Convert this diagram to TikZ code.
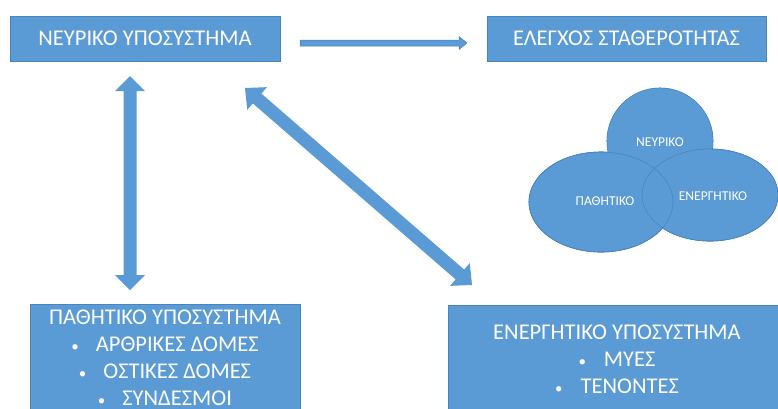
\documentclass[tikz,border=0pt]{standalone}
\usepackage{fontspec}
\setmainfont{Carlito}
\usetikzlibrary{calc}
\definecolor{obl}{HTML}{5B9BD5}
\definecolor{obd}{HTML}{4A84BE}
\newcommand\dblarrow[5]{%
  \fill[obl] (#1) -- ($(#1)!#5!(#2)!#4!90:(#2)$) -- ($(#1)!#5!(#2)!#3!90:(#2)$)
    -- ($(#2)!#5!(#1)!#3!-90:(#1)$) -- ($(#2)!#5!(#1)!#4!-90:(#1)$) -- (#2)
    -- ($(#2)!#5!(#1)!#4!90:(#1)$) -- ($(#2)!#5!(#1)!#3!90:(#1)$)
    -- ($(#1)!#5!(#2)!#3!-90:(#2)$) -- ($(#1)!#5!(#2)!#4!-90:(#2)$) -- cycle;}
\newcommand\blt{{\fontsize{15}{15}\selectfont •}}
\begin{document}
\begin{tikzpicture}[x=1pt,y=-1pt,
  box/.style={fill=obl, draw=obd, line width=0.5pt, text=white, inner sep=0pt, align=center},
  bigtext/.style={font=\fontsize{22.5}{27}\selectfont},
  blob/.style={fill=obl, draw=obd, line width=0.6pt},
  blobtext/.style={text=white, font=\fontsize{13.5}{15}\selectfont}]
\useasboundingbox (0,0) rectangle (778,408);
\clip (0,0) rectangle (778,408);
\fill[white] (0,0) rectangle (778,408);
% top boxes
\node[box, bigtext, minimum width=270pt, minimum height=45pt] (neur) at (145,38.5) {ΝΕΥΡΙΚΟ ΥΠΟΣΥΣΤΗΜΑ};
\node[box, bigtext, minimum width=279pt, minimum height=45pt] (eleg) at (626.5,38.5) {ΕΛΕΓΧΟΣ ΣΤΑΘΕΡΟΤΗΤΑΣ};
% bottom boxes
\node[box, bigtext, minimum width=270pt, minimum height=108pt] (path) at (165,358)
  {ΠΑΘΗΤΙΚΟ ΥΠΟΣΥΣΤΗΜΑ\\ \blt\hspace{17pt}ΑΡΘΡΙΚΕΣ ΔΟΜΕΣ\\ \blt\hspace{17pt}ΟΣΤΙΚΕΣ ΔΟΜΕΣ\\ \blt\hspace{17pt}ΣΥΝΔΕΣΜΟΙ};
\node[box, bigtext, minimum width=338pt, minimum height=108pt] (ener) at (617,359)
  {ΕΝΕΡΓΗΤΙΚΟ ΥΠΟΣΥΣΤΗΜΑ\\ \blt\hspace{18pt}ΜΥΕΣ\\ \blt\hspace{18pt}ΤΕΝΟΝΤΕΣ};
% arrow end points
\coordinate (h1) at (300,43);
\coordinate (h2) at (467,43);
\coordinate (v1) at (130,76);
\coordinate (v2) at (130,290);
\coordinate (d1) at (245,88);
\coordinate (d2) at (472,285);
% horizontal single arrow
\filldraw[fill=obl, draw=obd, line width=0.5pt] (h2) -- ($(h2)!8pt!(h1)!6.5pt!90:(h1)$) -- ($(h2)!8pt!(h1)!3pt!90:(h1)$)
  -- ($(h1)!3pt!-90:(h2)$) -- ($(h1)!3pt!90:(h2)$) -- ($(h2)!8pt!(h1)!3pt!-90:(h1)$)
  -- ($(h2)!8pt!(h1)!6.5pt!-90:(h1)$) -- cycle;
% double arrows
\dblarrow{v1}{v2}{6.5pt}{15pt}{15pt}
\dblarrow{d1}{d2}{6.5pt}{15pt}{16pt}
% venn blobs
\fill[blob] (660,141) circle [radius=53];
\fill[blob] (601,202) ellipse [x radius=72, y radius=50];
\fill[blob] (710,195) ellipse [x radius=68, y radius=46];
\draw[obd, line width=0.6pt] (660,141) circle [radius=53];
\draw[obd, line width=0.6pt] (601,202) ellipse [x radius=72, y radius=50];
\draw[obd, line width=0.6pt] (710,195) ellipse [x radius=68, y radius=46];
\fill[obl] (660,141) circle [radius=52.6];
\fill[obl] (601,202) ellipse [x radius=71.6, y radius=49.6];
\fill[obl] (710,195) ellipse [x radius=67.6, y radius=45.6];
\draw[obd, line width=0.6pt] (601,202) ellipse [x radius=72, y radius=50];
\draw[obd, line width=0.6pt] (710,195) ellipse [x radius=68, y radius=46];
\node[blobtext] (tn) at (660,142) {ΝΕΥΡΙΚΟ};
\node[blobtext] (tp) at (605,201) {ΠΑΘΗΤΙΚΟ};
\node[blobtext] (te) at (713,196) {ΕΝΕΡΓΗΤΙΚΟ};
\end{tikzpicture}
\end{document}
